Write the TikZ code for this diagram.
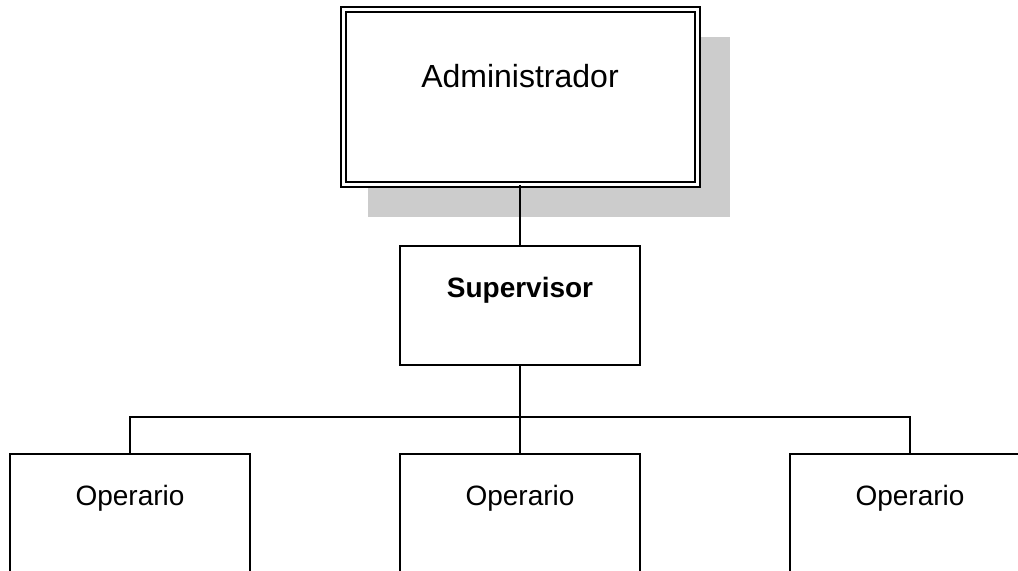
\documentclass[tikz,border=0pt]{standalone}
\usepackage{fontspec}
\setmainfont{Liberation Sans}
\usetikzlibrary{positioning}
\definecolor{shadowgray}{HTML}{CCCCCC}

\tikzset{
  box/.style={draw,line width=1pt,minimum width=120pt,minimum height=59.5pt,
    font=\fontsize{14}{16}\selectfont,text height=10pt,text depth=17.5pt},
  topbox/.style={draw,double,line width=1pt,double distance=1.5pt,fill=white,
    minimum width=177pt,minimum height=87.25pt,
    font=\fontsize{16}{18}\selectfont,text height=12pt,text depth=21pt},
  link/.style={line width=1pt}
}

\begin{document}
\begin{tikzpicture}[x=0.5pt,y=-0.5pt]
      \useasboundingbox (0,0) rectangle (1018,571);
      \fill[shadowgray] (368,37) rectangle (730,217);
      \node[topbox] (admin) at (520,97) {Administrador};
      \node[box] (sup) at (520,305.5) {\bfseries Supervisor};
      \node[box] (op1) at (130,513.5) {Operario};
      \node[box] (op2) at (520,513.5) {Operario};
      \node[box] (op3) at (910,513.5) {Operario};
      \coordinate (bar) at (520,417);
      \draw[link] (admin.south) -- (sup.north);
      \draw[link] (sup.south) -- (op2.north);
      \draw[link] (op1.north) |- (bar) -| (op3.north);
      \end{tikzpicture}
\end{document}
